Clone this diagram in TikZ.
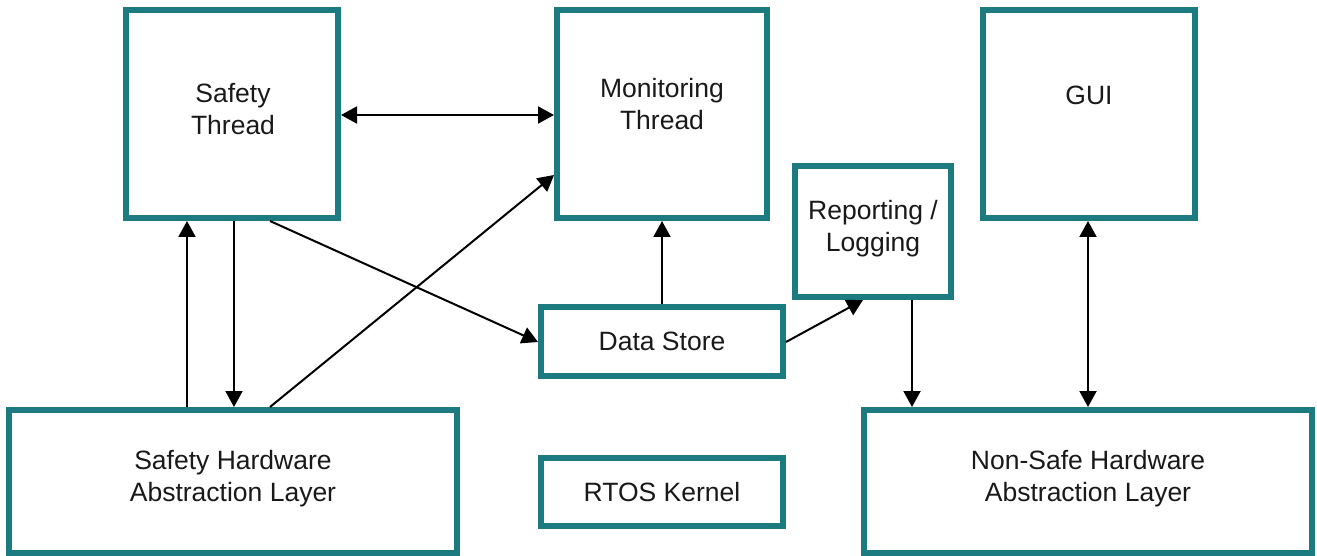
\documentclass[tikz,border=0pt]{standalone}
\usepackage{fontspec}
\setmainfont{Liberation Sans}
\usetikzlibrary{arrows.meta,calc}
\definecolor{teal1}{HTML}{1B7B80}
\begin{document}
\begin{tikzpicture}[x=1pt,y=-1pt,
  box/.style={draw=teal1,line width=6pt,minimum width=#1,inner sep=0pt,fill=white},
  lbl/.style={align=center,font=\fontsize{26.5}{32}\selectfont,inner sep=0pt,text=black!90},
  conn/.style={line width=2pt,-{Triangle[length=16pt,width=17pt]}},
  conn2/.style={line width=2pt,{Triangle[length=16pt,width=17pt]}-{Triangle[length=16pt,width=17pt]}}]
\useasboundingbox (0,0) rectangle (1317,556);
\node[box=212pt,minimum height=208pt] (st) at (232,114) {};
\node[box=210pt,minimum height=208pt] (mt) at (662,114) {};
\node[box=212pt,minimum height=208pt] (gui) at (1089,114) {};
\node[box=156pt,minimum height=131pt] (rep) at (873,231.5) {};
\node[box=242pt,minimum height=69pt] (ds) at (662,341.5) {};
\node[box=448pt,minimum height=143pt] (shal) at (233,481.5) {};
\node[box=448pt,minimum height=143pt] (nshal) at (1088,481.5) {};
\node[box=242pt,minimum height=68pt] (rtos) at (662,492) {};
% texts
\node[lbl] (tst) at (233,109) {Safety\\Thread};
\node[lbl] (tmt) at (662,104) {Monitoring\\Thread};
\node[lbl] (tgui) at (1089,95) {GUI};
\node[lbl] (trep) at (873,229) {Reporting /\\Logging};
\node[lbl] (tds) at (662,341) {Data Store};
\node[lbl] (tshal) at (233,479) {Safety Hardware\\Abstraction Layer};
\node[lbl] (tnshal) at (1088,479) {Non-Safe Hardware\\Abstraction Layer};
\node[lbl] (trtos) at (662,492) {RTOS Kernel};
% connectors
\draw[conn2] (st.east |- 0,115) -- (mt.west |- 0,115);
\draw[conn] (shal.north -| 187,0) -- (st.south -| 187,0);
\draw[conn] (st.south -| 234,0) -- (shal.north -| 234,0);
\draw[conn] (shal.north -| 270,0) -- (mt.west |- 0,175);
\draw[conn] (st.south -| 270,0) -- (ds.west |- 0,342);
\draw[conn] (ds.north -| 662,0) -- (mt.south -| 662,0);
\draw[conn] (ds.east |- 0,342) -- (rep.south -| 863,0);
\draw[conn] (rep.south -| 912,0) -- (nshal.north -| 912,0);
\draw[conn2] (gui.south -| 1088,0) -- (nshal.north -| 1088,0);
\end{tikzpicture}
\end{document}
